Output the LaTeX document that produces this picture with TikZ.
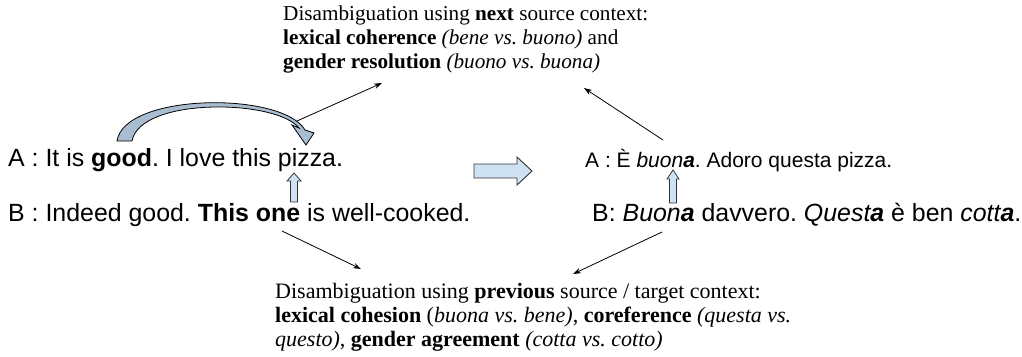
\documentclass[tikz,border=0pt]{standalone}
\usepackage{fontspec}
\setmainfont{Liberation Serif}
\newfontfamily\sansf{Liberation Sans}
\usetikzlibrary{arrows.meta}
\definecolor{lightarrow}{HTML}{CFE2F3}
\definecolor{curvefill}{HTML}{A9BDD1}
\definecolor{edgegrey}{HTML}{333333}
\frenchspacing
\begin{document}
\begin{tikzpicture}[x=1pt,y=-1pt,
  sent/.style={anchor=base west, inner sep=0pt, font=\sansf\fontsize{24.9}{30}\selectfont},
  sentsm/.style={anchor=base west, inner sep=0pt, font=\sansf\fontsize{21}{26}\selectfont},
  sertop/.style={anchor=base west, inner sep=0pt, font=\fontsize{21.2}{24}\selectfont},
  serbot/.style={anchor=base west, inner sep=0pt, font=\fontsize{22}{24}\selectfont},
  conn/.style={draw=black, line width=0.8pt, -{Stealth[length=8pt,width=5.5pt]}},
  blockarrow/.style={draw=edgegrey, fill=lightarrow, line width=0.9pt, line join=miter},
]
\useasboundingbox (0,0) rectangle (1022,356);

% texts
\node[sertop] (t1) at (283,20) {\frenchspacing Disambiguation using \textbf{next} source context:};
\node[sertop] (t2) at (283,44) {\frenchspacing\textbf{lexical coherence} \textit{(bene vs. buono)} and};
\node[sertop] (t3) at (283,68) {\frenchspacing\textbf{gender resolution} \textit{(buono vs. buona)}};

\node[sent] (la) at (8,166) {\frenchspacing A : It is \textbf{good}. I love this pizza.};
\node[sent] (lb) at (8,221) {\frenchspacing B : Indeed good. \textbf{This one} is well-cooked.};
\node[sentsm] (ra) at (585,167) {\frenchspacing A : È \textit{buon\textbf{a}}. Adoro questa pizza.};
\node[sent] (rb) at (592,221) {\frenchspacing B: \textit{Buon\textbf{a}} davvero. \textit{Quest\textbf{a}} è ben \textit{cott\textbf{a}}.};

\node[serbot] (b1) at (275,298) {\frenchspacing Disambiguation using \textbf{previous} source / target context:};
\node[serbot] (b2) at (275,322) {\frenchspacing\textbf{lexical cohesion} (\textit{buona vs. bene)}, \textbf{coreference} \textit{(questa vs.}};
\node[serbot] (b3) at (275,346) {\frenchspacing\textit{questo)}, \textbf{gender agreement} \textit{(cotta vs. cotto)}};

% connector end points
\coordinate (c1s) at (297,121);
\coordinate (c1e) at (382,83);
\coordinate (c2s) at (663,140);
\coordinate (c2e) at (584,88);
\coordinate (c3s) at (282,231);
\coordinate (c3e) at (361,269);
\coordinate (c4s) at (662,232);
\coordinate (c4e) at (573,274);

\draw[conn] (c1s) -- (c1e);
\draw[conn] (c2s) -- (c2e);
\draw[conn] (c3s) -- (c3e);
\draw[conn] (c4s) -- (c4e);

% curved arrow
\draw[draw=black, fill=curvefill, line width=0.8pt, line join=miter]
  (117,141) .. controls (124,93) and (282,91) .. (305,130)
  -- (314,133) -- (306,145) -- (292,125) -- (299,128)
  .. controls (276,99) and (140,97) .. (132,141) -- cycle;

% big right arrow
\draw[blockarrow] (474,164) -- (517,164) -- (517,157) -- (532,171)
  -- (517,185) -- (517,178) -- (474,178) -- cycle;

% small up arrows
\draw[blockarrow, line width=0.8pt] (290.5,202) -- (290.5,181) -- (287,181) -- (294,173)
  -- (301,181) -- (297.5,181) -- (297.5,202) -- cycle;
\draw[blockarrow, line width=0.8pt] (669.5,203) -- (669.5,179) -- (667,179) -- (673,170)
  -- (679,179) -- (676.5,179) -- (676.5,203) -- cycle;
\end{tikzpicture}
\end{document}
